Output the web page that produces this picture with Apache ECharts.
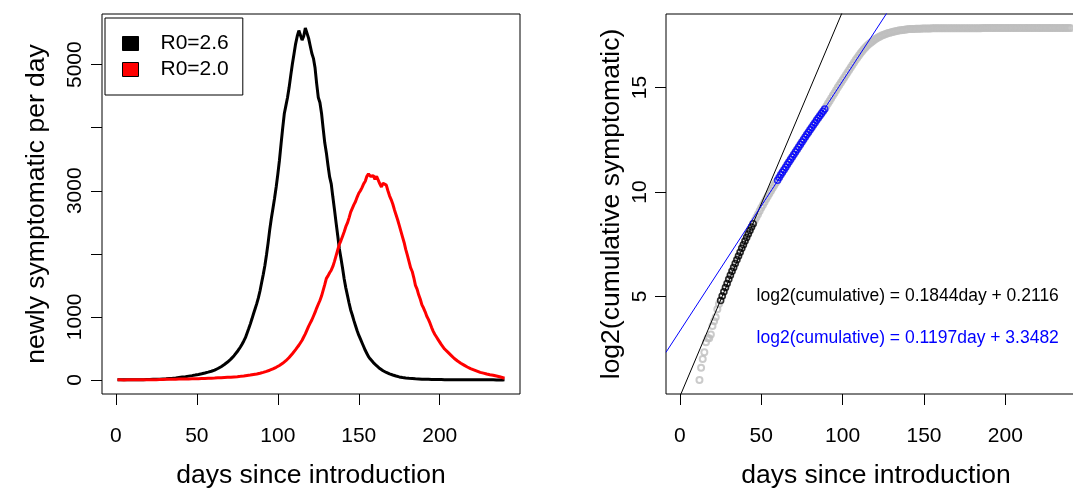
<!DOCTYPE html>
<html><head><meta charset="utf-8">
<script src="https://cdn.jsdelivr.net/npm/echarts@6/dist/echarts.min.js"></script>
<style>html,body{margin:0;padding:0;background:#fff}#c{width:1073px;height:488px}</style>
</head><body><div id="c"></div>
<script>
// ---------------- data ----------------
const days = [];
for (let d = 1; d <= 240; d++) days.push(d);

// newly symptomatic per day, R0 = 2.6 (days 1..240)
const newlyR26 = [
  1,0,2,1,1,2,1,3,2,2,
  3,2,3,4,3,5,4,6,5,7,
  6,8,9,8,10,11,12,13,15,16,
  18,19,22,24,26,29,31,35,38,42,
  45,48,52,56,60,64,68,72,77,82,
  87,92,98,104,110,116,123,130,138,147,
  156,168,181,195,210,226,244,263,284,306,
  330,356,385,416,450,487,526,570,618,670,
  740,810,885,965,1050,1130,1210,1300,1410,1540,
  1670,1810,1980,2170,2380,2560,2720,2880,3060,3260,
  3480,3740,3990,4220,4350,4480,4640,4830,5010,5170,
  5330,5450,5540,5510,5390,5450,5580,5560,5420,5300,
  5180,5100,4950,4700,4480,4400,4230,3990,3760,3600,
  3400,3220,3110,2900,2700,2490,2290,2080,1930,1770,
  1600,1460,1340,1220,1110,1030,940,860,780,710,
  650,590,530,470,420,370,335,305,275,248,
  225,200,180,162,145,130,118,105,95,86,
  78,70,62,56,48,43,39,35,32,29,
  26,24,22,20,18,16,15,13,12,11,
  10,9,9,8,7,7,6,6,5,5,
  5,4,4,4,3,4,3,3,3,2,
  3,2,2,2,2,1,2,1,2,1,
  1,1,2,1,1,0,1,1,1,0,
  1,0,1,1,0,1,0,1,0,1
];

// newly symptomatic per day, R0 = 2.0 (days 1..240)
const newlyR20 = [
  1,0,1,1,0,1,2,1,1,2,
  1,2,2,1,3,2,2,3,2,4,
  3,3,4,5,4,5,6,5,6,7,
  9,10,10,11,11,12,12,13,13,14,
  14,15,15,16,16,17,18,18,19,19,
  20,21,22,23,24,25,26,27,28,29,
  30,31,33,34,35,36,38,39,41,42,
  44,46,48,50,52,55,57,60,63,67,
  70,73,77,81,86,90,95,100,106,112,
  120,128,136,145,154,164,175,187,200,214,
  229,245,263,283,305,330,356,385,415,445,
  480,515,550,590,630,680,730,790,850,900,
  950,1010,1070,1140,1200,1260,1330,1420,1510,1610,
  1650,1700,1740,1800,1880,1970,2060,2150,2210,2280,
  2350,2430,2490,2570,2660,2720,2780,2830,2900,2960,
  3000,3050,3110,3150,3230,3270,3230,3260,3240,3180,
  3230,3200,3110,3060,3120,3100,3090,3000,2920,2860,
  2790,2700,2620,2540,2450,2360,2270,2180,2070,1980,
  1880,1780,1720,1620,1500,1440,1350,1280,1190,1140,
  1080,1010,960,900,830,770,720,680,640,600,
  560,525,490,470,440,415,390,365,340,320,
  300,285,265,250,235,220,205,190,180,170,
  160,152,140,132,120,112,108,100,94,88,
  82,78,74,66,62,56,50,42,34,26
];

// log2(cumulative symptomatic), first value is day 12
const cumStartDay = 12;
const log2Cum = [
  1,1.585,2,2.322,2.807,3,3,3.17,3.585,3.807,
  4,4.39,4.64,4.80,5.02,5.22,5.43,5.62,5.82,6.01,
  6.20,6.39,6.58,6.76,6.94,7.12,7.30,7.47,7.65,7.82,
  7.99,8.16,8.32,8.48,8.64,8.79,8.94,9.09,9.24,9.38,
  9.52,9.66,9.80,9.93,10.06,10.19,10.32,10.44,10.56,10.69,
  10.82,10.94,11.07,11.19,11.32,11.44,11.56,11.68,11.80,11.92,
  12.04,12.16,12.28,12.40,12.51,12.63,12.75,12.86,12.98,13.09,
  13.21,13.32,13.43,13.54,13.65,13.76,13.87,13.98,14.11,14.24,
  14.36,14.49,14.62,14.74,14.87,15.00,15.12,15.24,15.36,15.48,
  15.60,15.72,15.84,15.96,16.08,16.20,16.32,16.43,16.54,16.64,
  16.74,16.83,16.92,17.00,17.07,17.14,17.20,17.26,17.31,17.36,
  17.41,17.45,17.49,17.52,17.55,17.58,17.61,17.63,17.65,17.67,
  17.69,17.71,17.72,17.74,17.75,17.76,17.77,17.78,17.79,17.80,
  17.80,17.81,17.81,17.82,17.82,17.82,17.82,17.83,17.83,17.83,
  17.83,17.83,17.83,17.84,17.84,17.84,17.84,17.84,17.84,17.84,
  17.84,17.84,17.84,17.84,17.84,17.84,17.84,17.84,17.84,17.84,
  17.84,17.84,17.84,17.84,17.84,17.84,17.84,17.84,17.84,17.84,
  17.84,17.84,17.84,17.84,17.85,17.85,17.85,17.85,17.85,17.85,
  17.85,17.85,17.85,17.85,17.85,17.85,17.85,17.85,17.85,17.85,
  17.85,17.85,17.85,17.85,17.85,17.85,17.85,17.85,17.85,17.85,
  17.85,17.85,17.85,17.85,17.85,17.85,17.85,17.85,17.85,17.85,
  17.85,17.85,17.85,17.85,17.85,17.85,17.85,17.85,17.85,17.85,
  17.85,17.85,17.85,17.85,17.85,17.85,17.85,17.85,17.85
];

const earlyFitDays = [25, 45];
const laterFitDays = [60, 89];
const fitSlope = [0.1844, 0.1197];
const fitIntercept = [0.2116, 3.3482];

const legendLabels = ['R0=2.6', 'R0=2.0'];
const xTicks = [0, 50, 100, 150, 200];
const yTicksLeft = [0, 1000, 2000, 3000, 4000, 5000];
const yLabelsLeft = [0, 1000, 3000, 5000];
const yTicksRight = [5, 10, 15];
const xTitle = 'days since introduction';
const yTitleLeft = 'newly symptomatic per day';
const yTitleRight = 'log2(cumulative symptomatic)';

// ---------------- build ----------------
const FONT = "'Liberation Sans', Arial, Helvetica, sans-serif";
function rRange(vals) { // R default 4% padding
  const f = vals.filter(v => v != null && isFinite(v));
  const lo = Math.min(...f), hi = Math.max(...f), p = 0.04 * (hi - lo);
  return [lo - p, hi + p];
}
const xr = rRange(days);
const yrL = rRange(newlyR26.concat(newlyR20));
const yrR = rRange(log2Cum);

const s26 = days.map((d, i) => [d, newlyR26[i]]);
const s20 = days.map((d, i) => [d, newlyR20[i]]);
const cumPts = log2Cum.map((v, i) => [cumStartDay + i, v]);
const earlyPts = cumPts.filter(p => p[0] >= earlyFitDays[0] && p[0] <= earlyFitDays[1]);
const laterPts = cumPts.filter(p => p[0] >= laterFitDays[0] && p[0] <= laterFitDays[1]);
const fitLine = k => [[xr[0], fitSlope[k] * xr[0] + fitIntercept[k]], [xr[1], fitSlope[k] * xr[1] + fitIntercept[k]]];
const fitText = k => 'log2(cumulative) = ' + fitSlope[k].toFixed(4) + 'day + ' + fitIntercept[k].toFixed(4);
const plain = v => String(v);

function xAxisCfg(gi) {
  return {
    gridIndex: gi, type: 'value', min: xr[0], max: xr[1],
    axisLine: { show: false, onZero: false },
    axisTick: { show: true, length: 11, customValues: xTicks, lineStyle: { color: '#000', width: 1 } },
    axisLabel: { customValues: xTicks, formatter: plain, fontSize: 21, color: '#000', fontFamily: FONT, margin: 32 },
    splitLine: { show: false },
    name: xTitle, nameLocation: 'middle', nameGap: 68,
    nameTextStyle: { fontSize: 26.5, color: '#000', fontFamily: FONT }
  };
}
function yAxisCfg(gi, r, ticks, labels, title, margin, gap) {
  return {
    gridIndex: gi, type: 'value', min: r[0], max: r[1],
    axisLine: { show: false, onZero: false },
    axisTick: { show: true, length: 11, customValues: ticks, lineStyle: { color: '#000', width: 1 } },
    axisLabel: { customValues: labels, formatter: plain, rotate: 90, fontSize: 21, color: '#000', fontFamily: FONT, margin: margin },
    splitLine: { show: false },
    name: title, nameLocation: 'middle', nameGap: gap,
    nameTextStyle: { fontSize: 26.5, color: '#000', fontFamily: FONT }
  };
}

const gridBase = { top: 14, height: 380, show: true, borderColor: '#000', borderWidth: 1,
  backgroundColor: 'transparent', containLabel: false, outerBoundsMode: 'none' };
const option = {
  animation: false,
  backgroundColor: '#fff',
  textStyle: { fontFamily: FONT },
  grid: [
    Object.assign({ left: 102, width: 418 }, gridBase),
    Object.assign({ left: 666, width: 420 }, gridBase)
  ],
  xAxis: [xAxisCfg(0), xAxisCfg(1)],
  yAxis: [
    yAxisCfg(0, yrL, yTicksLeft, yLabelsLeft, yTitleLeft, 16, 52),
    yAxisCfg(1, yrR, yTicksRight, yTicksRight, yTitleRight, 15, 41)
  ],
  legend: {
    orient: 'vertical', left: 105, top: 18,
    padding: [14, 14, 14, 17], itemGap: 3,
    itemWidth: 16, itemHeight: 14, icon: 'rect',
    borderColor: '#000', borderWidth: 1, borderRadius: 0,
    selectedMode: false,
    textStyle: { fontSize: 21, color: '#000', fontFamily: FONT, padding: [0, 0, 0, 17], lineHeight: 23 },
    data: [
      { name: legendLabels[0], itemStyle: { color: '#000', borderColor: '#000', borderWidth: 1 } },
      { name: legendLabels[1], itemStyle: { color: '#ff0000', borderColor: '#000', borderWidth: 1 } }
    ]
  },
  series: [
    { name: legendLabels[0], type: 'line', xAxisIndex: 0, yAxisIndex: 0, data: s26,
      showSymbol: false, symbol: 'none', lineStyle: { color: '#000', width: 3 }, itemStyle: { color: '#000' } },
    { name: legendLabels[1], type: 'line', xAxisIndex: 0, yAxisIndex: 0, data: s20,
      showSymbol: false, symbol: 'none', lineStyle: { color: '#ff0000', width: 3 }, itemStyle: { color: '#ff0000' } },
    { name: 'all days', type: 'scatter', xAxisIndex: 1, yAxisIndex: 1, data: cumPts,
      symbol: 'circle', symbolSize: 6, silent: true,
      itemStyle: { color: 'rgba(0,0,0,0)', borderColor: '#bebebe', borderWidth: 2 } },
    { name: 'early fit days', type: 'scatter', xAxisIndex: 1, yAxisIndex: 1, data: earlyPts,
      symbol: 'circle', symbolSize: 6, silent: true,
      itemStyle: { color: 'rgba(0,0,0,0)', borderColor: '#000', borderWidth: 1.5 } },
    { name: 'later fit days', type: 'scatter', xAxisIndex: 1, yAxisIndex: 1, data: laterPts,
      symbol: 'circle', symbolSize: 6, silent: true,
      itemStyle: { color: 'rgba(0,0,0,0)', borderColor: '#0000ff', borderWidth: 1.5 } },
    { name: 'early fit', type: 'line', xAxisIndex: 1, yAxisIndex: 1, data: fitLine(0), clip: true,
      showSymbol: false, symbol: 'none', lineStyle: { color: '#000', width: 1 } },
    { name: 'later fit', type: 'line', xAxisIndex: 1, yAxisIndex: 1, data: fitLine(1), clip: true,
      showSymbol: false, symbol: 'none', lineStyle: { color: '#0000ff', width: 1 } }
  ]
};

const chart = echarts.init(document.getElementById('c'), null, { renderer: 'canvas' });
chart.setOption(option);

// equations placed at data coordinates of the right panel
const eqAnchors = [[140, 5], [140, 3]];
const eqColors = ['#000', '#0000ff'];
const graphics = eqAnchors.map((a, k) => {
  const p = chart.convertToPixel({ gridIndex: 1 }, a);
  return { type: 'text', x: p[0], y: p[1], silent: true,
    style: { text: fitText(k), fill: eqColors[k], font: '17.5px ' + FONT, align: 'center', verticalAlign: 'middle' } };
});
chart.setOption({ graphic: graphics });
</script>
</body></html>
